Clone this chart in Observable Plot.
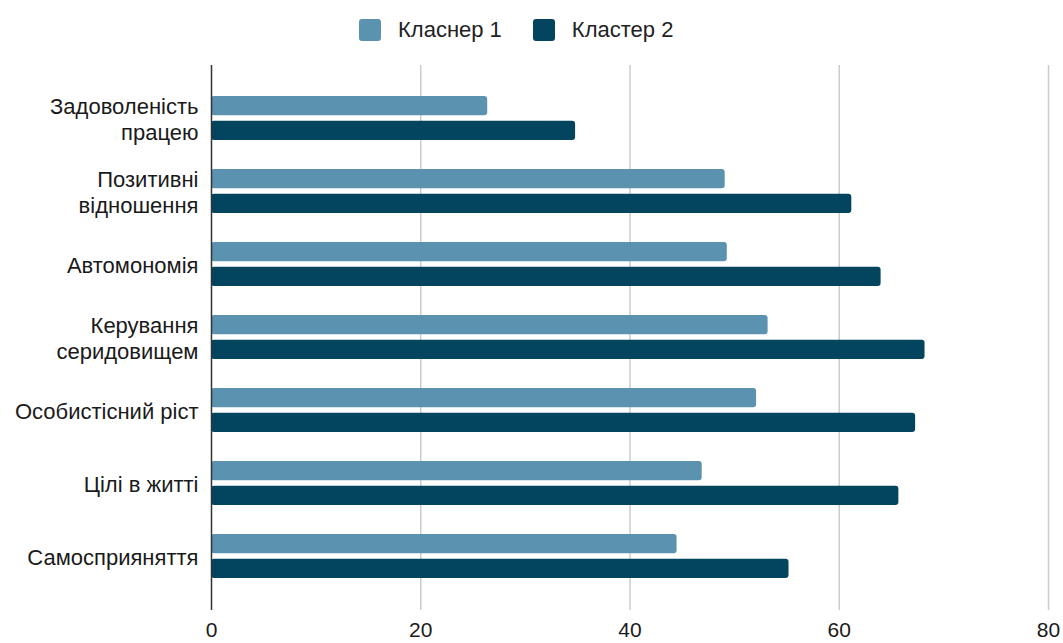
<!DOCTYPE html>
<html>
<head>
<meta charset="utf-8">
<script src="https://cdn.jsdelivr.net/npm/d3@7"></script>
<script src="https://cdn.jsdelivr.net/npm/@observablehq/plot@0.6"></script>
<style>
  html, body { margin: 0; padding: 0; background: #fff; overflow: hidden; }
  body { font-family: "Liberation Sans", Arial, sans-serif; }
  #legend { height: 58px; display: flex; align-items: center; padding-left: 359px; box-sizing: border-box; padding-top: 2px; }
  .item { display: flex; align-items: center; margin-right: 31px; font-size: 22px; color: #222; }
  .sw { width: 22px; height: 22px; border-radius: 3px; margin-right: 17px; }
</style>
</head>
<body>
<div id="legend"></div>
<div id="chart"></div>
<script>
const categories = [
  "Задоволеність\nпрацею",
  "Позитивні\nвідношення",
  "Автомономія",
  "Керування\nсеридовищем",
  "Особистісний ріст",
  "Цілі в житті",
  "Самосприяняття"
];
const seriesNames = ["Класнер 1", "Кластер 2"];
const cluster1 = [26.4, 49.1, 49.3, 53.2, 52.1, 46.9, 44.5];
const cluster2 = [34.8, 61.2, 64.0, 68.2, 67.3, 65.7, 55.2];
const colors = ["#5b92b0", "#03455f"];
const xTicks = [0, 20, 40, 60, 80];

const rows1 = categories.map((c, i) => ({category: c, series: seriesNames[0], value: cluster1[i]}));
const rows2 = categories.map((c, i) => ({category: c, series: seriesNames[1], value: cluster2[i]}));

const legend = document.getElementById("legend");
seriesNames.forEach((s, i) => {
  const it = document.createElement("div");
  it.className = "item";
  const sw = document.createElement("div");
  sw.className = "sw";
  sw.style.background = colors[i];
  const t = document.createElement("span");
  t.textContent = s;
  it.appendChild(sw); it.appendChild(t);
  legend.appendChild(it);
});

const plot = Plot.plot({
  width: 1063,
  height: 585,
  marginLeft: 211,
  marginRight: 15,
  marginTop: 7,
  marginBottom: 33,
  style: {fontFamily: "'Liberation Sans', Arial, sans-serif", fontSize: "22px", color: "#1a1a1a", background: "#fff"},
  x: {domain: [0, 80], ticks: xTicks, label: null},
  y: {domain: categories, paddingInner: 0.395, paddingOuter: 0.39, label: null},
  color: {domain: seriesNames, range: colors},
  marks: [
    Plot.ruleX(xTicks.filter(d => d !== 0), {stroke: "#cccccc", strokeWidth: 1.5}),
    Plot.barX(rows1, {y: "category", x: "value", fill: "series", rx: 3, insetBottom: 24.65}),
    Plot.barX(rows2, {y: "category", x: "value", fill: "series", rx: 3, insetTop: 24.65}),
    Plot.ruleX([0], {stroke: "#333", strokeWidth: 1.5}),
    Plot.axisX({ticks: xTicks, tickSize: 0, tickPadding: 12, fontSize: 21, label: null, tickFormat: d => String(d)}),
    Plot.axisY({tickSize: 0, tickPadding: 13, fontSize: 22, lineHeight: 1.2, label: null, textAnchor: "end"})
  ]
});
document.getElementById("chart").appendChild(plot);
</script>
</body>
</html>
